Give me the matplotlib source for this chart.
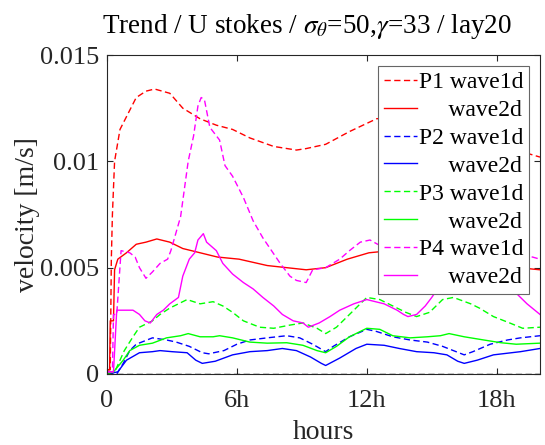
import matplotlib
matplotlib.use("Agg")
import matplotlib.pyplot as plt

# ---- data (hours, m/s) ----
t_p1_1d = [0, 0.15, 0.2, 0.25, 0.35, 0.6, 1.05, 1.35, 1.8, 2.2, 2.9, 3.5, 4.3, 5.05, 5.8, 6.6, 7.7, 8.75, 9.2, 10.1, 11.2, 12.45, 13.3, 14.5, 16.0, 17.5, 19.0, 20.0]
v_p1_1d = [0.0002, 0.0002, 0.0054, 0.0075, 0.0100, 0.0115, 0.0124, 0.0130, 0.0133, 0.0134, 0.0132, 0.0125, 0.0120, 0.0117, 0.0115, 0.0111, 0.0107, 0.01053, 0.0106, 0.0108, 0.0114, 0.0120, 0.0121, 0.0119, 0.0114, 0.0109, 0.0105, 0.0102]

t_p1_2d = [0, 0.12, 0.15, 0.3, 0.35, 0.5, 0.9, 1.35, 1.8, 2.3, 2.9, 3.5, 4.3, 5.1, 6.1, 7.4, 8.3, 9.2, 10.1, 11.1, 12.1, 12.6, 14, 16, 18, 20]
v_p1_2d = [0.0002, 0.0002, 0.0025, 0.0025, 0.0049, 0.0054, 0.0057, 0.0061, 0.0062, 0.00635, 0.0062, 0.0059, 0.0057, 0.0055, 0.0054, 0.0051, 0.0050, 0.0049, 0.0050, 0.0054, 0.0057, 0.00575, 0.0057, 0.0054, 0.0051, 0.0049]

t_p2_1d = [0, 0.45, 0.75, 1.05, 1.35, 2.1, 2.75, 3.2, 3.8, 4.4, 4.7, 5.4, 6.0, 6.6, 7.4, 8.3, 8.9, 9.5, 10.1, 10.45, 11.2, 12.0, 12.45, 13.2, 14.0, 14.8, 15.5, 16.5, 16.9, 17.7, 18.5, 19.1, 20]
v_p2_1d = [0, 0.0, 0.0005, 0.0011, 0.0014, 0.0017, 0.0016, 0.0015, 0.0013, 0.0010, 0.00095, 0.0011, 0.0014, 0.0016, 0.0017, 0.0018, 0.0017, 0.0014, 0.00105, 0.0013, 0.00175, 0.0021, 0.0020, 0.00175, 0.0016, 0.0015, 0.0013, 0.0009, 0.00105, 0.0014, 0.0016, 0.0017, 0.0018]

t_p2_2d = [0, 0.5, 0.9, 1.5, 2.1, 2.45, 3.0, 3.7, 4.1, 4.4, 5.0, 5.8, 6.6, 7.4, 8.1, 8.75, 9.4, 9.9, 10.1, 10.75, 11.5, 12.0, 12.8, 13.5, 14.3, 15.1, 15.7, 16.2, 16.5, 17.1, 17.85, 19.1, 20]
v_p2_2d = [0, 0.0001, 0.00065, 0.0010, 0.00105, 0.0011, 0.00105, 0.0010, 0.00065, 0.0005, 0.0006, 0.0009, 0.00105, 0.0011, 0.0012, 0.0011, 0.0008, 0.0005, 0.0004, 0.00075, 0.0012, 0.0014, 0.00135, 0.0012, 0.00105, 0.0010, 0.0009, 0.0006, 0.0005, 0.00065, 0.0009, 0.00105, 0.0012]

t_p3_1d = [0, 0.4, 0.8, 1.2, 1.5, 2.1, 2.45, 2.9, 3.7, 4.3, 4.9, 5.35, 5.8, 6.3, 7.05, 7.7, 8.45, 9.05, 9.7, 10.1, 10.6, 11.4, 12.0, 12.6, 13.2, 13.8, 14.3, 14.9, 15.5, 16.0, 16.8, 17.2, 17.85, 18.6, 19.2, 20]
v_p3_1d = [0, 0.0002, 0.0011, 0.00175, 0.0022, 0.0025, 0.0028, 0.0031, 0.0035, 0.0033, 0.0034, 0.0032, 0.0029, 0.0025, 0.0022, 0.00215, 0.0023, 0.0024, 0.00215, 0.0019, 0.0022, 0.0030, 0.0036, 0.0035, 0.0032, 0.0029, 0.0027, 0.0029, 0.0035, 0.0036, 0.0033, 0.0031, 0.0027, 0.0024, 0.00215, 0.0022]

t_p3_2d = [0, 0.3, 0.75, 1.05, 1.5, 2.1, 2.75, 3.4, 3.75, 4.3, 4.9, 5.2, 5.8, 6.6, 7.4, 8.3, 9.05, 9.7, 10.1, 10.6, 11.2, 12.0, 12.6, 13.2, 14.0, 14.8, 15.4, 15.8, 16.5, 17.4, 18.2, 18.9, 20]
v_p3_2d = [0, 0.0001, 0.00065, 0.0011, 0.00135, 0.00145, 0.0017, 0.0018, 0.0019, 0.00175, 0.00175, 0.0018, 0.0017, 0.0015, 0.00145, 0.00147, 0.00135, 0.0011, 0.0010, 0.0013, 0.00175, 0.00215, 0.0021, 0.0018, 0.0017, 0.00175, 0.0018, 0.0019, 0.00175, 0.0016, 0.00147, 0.0014, 0.00145]

t_p4_1d = [0, 0.25, 0.3, 0.45, 0.65, 1.05, 1.3, 1.5, 1.8, 2.1, 2.45, 2.8, 2.95, 3.4, 3.75, 4.0, 4.2, 4.35, 4.5, 4.75, 5.2, 5.45, 5.8, 6.3, 6.75, 7.2, 7.6, 8.0, 8.45, 8.75, 9.2, 9.5, 10.1, 10.75, 11.2, 11.7, 12.15, 12.5, 13.5, 15.0, 16.5, 18.0, 19.3, 20]
v_p4_1d = [0.0001, 0.0001, 0.0028, 0.0028, 0.0058, 0.0057, 0.0055, 0.0050, 0.0045, 0.0048, 0.0052, 0.0054, 0.0058, 0.0074, 0.0100, 0.0112, 0.0126, 0.0130, 0.0129, 0.0116, 0.0110, 0.0098, 0.0093, 0.0083, 0.0072, 0.0064, 0.0058, 0.0052, 0.0046, 0.0044, 0.0043, 0.0049, 0.0050, 0.0054, 0.0058, 0.0062, 0.0063, 0.0061, 0.0058, 0.0052, 0.0058, 0.0060, 0.0056, 0.0054]

t_p4_2d = [0, 0.3, 0.45, 1.2, 1.5, 1.75, 2.0, 2.3, 2.6, 2.9, 3.3, 3.5, 3.8, 4.05, 4.2, 4.45, 4.6, 5.05, 5.35, 5.8, 6.3, 6.75, 7.2, 7.7, 8.1, 8.6, 9.05, 9.3, 9.8, 10.3, 10.75, 11.4, 12.0, 12.8, 13.4, 13.7, 13.9, 14.3, 14.7, 15.0, 15.2, 16.0, 17.0, 18.0, 18.8, 19.4, 20]
v_p4_2d = [0.0001, 0.0001, 0.0030, 0.0030, 0.0028, 0.0025, 0.0024, 0.0028, 0.0030, 0.0033, 0.0036, 0.0046, 0.0054, 0.0057, 0.0063, 0.0066, 0.0062, 0.0058, 0.0052, 0.0047, 0.0043, 0.0040, 0.0036, 0.0032, 0.0028, 0.0025, 0.0024, 0.0022, 0.0024, 0.0027, 0.0030, 0.0033, 0.0035, 0.0033, 0.0030, 0.0028, 0.0027, 0.0028, 0.0032, 0.0036, 0.0039, 0.0043, 0.0045, 0.0043, 0.0039, 0.0033, 0.0028]

zero_level = [0.0]

labels = ["P1 wave1d", "     wave2d", "P2 wave1d", "     wave2d",
          "P3 wave1d", "     wave2d", "P4 wave1d", "     wave2d"]
x_ticks = [0, 6, 12, 18]
x_ticklabels = ["0", "6h", "12h", "18h"]
y_ticks = [0, 0.005, 0.01, 0.015]
y_ticklabels = ["0", "0.005", "0.01", "0.015"]

# ---- styling ----
plt.rcParams['font.family'] = ['Liberation Serif', 'DejaVu Serif']
plt.rcParams['mathtext.fontset'] = 'stix'
plt.rcParams['font.size'] = 18

dark = (0.15, 0.15, 0.15)
fig = plt.figure(figsize=(5.45, 4.45), dpi=100)
ax = fig.add_axes([107/545, 71/445, 433/545, 319/445])

series = [
    (t_p1_1d, v_p1_1d, 'red', '--'), (t_p1_2d, v_p1_2d, 'red', '-'),
    (t_p2_1d, v_p2_1d, 'blue', '--'), (t_p2_2d, v_p2_2d, 'blue', '-'),
    (t_p3_1d, v_p3_1d, (0, 1, 0), '--'), (t_p3_2d, v_p3_2d, (0, 1, 0), '-'),
    (t_p4_1d, v_p4_1d, (1, 0, 1), '--'), (t_p4_2d, v_p4_2d, (1, 0, 1), '-'),
]
for (t, v, c, ls), lab in zip(series, labels):
    kw = dict(dashes=(4.5, 2.5)) if ls == '--' else {}
    ax.plot(t, v, color=c, linestyle=ls, lw=1.0, label=lab, **kw)

ax.axhline(zero_level[0], color='k', linestyle='--', dashes=(4.5, 2.5), lw=1.0)

ax.set_xlim(0, 20)
ax.set_ylim(0, 0.015)
ax.set_xticks(x_ticks)
ax.set_xticklabels(x_ticklabels)
ax.set_yticks(y_ticks)
ax.set_yticklabels(y_ticklabels)
ax.tick_params(direction='in', top=True, right=True, length=4, width=0.8,
               colors=dark, labelcolor=dark, labelsize=19)
ax.tick_params(axis='y', pad=5.5)
ax.tick_params(axis='x', pad=11.5)
for s in ax.spines.values():
    s.set_color(dark)
    s.set_linewidth(0.8)

ax.set_xlabel("hours", color=dark, fontsize=20, labelpad=5.5)
ax.set_ylabel("velocity [m/s]", color=dark, fontsize=20, labelpad=0)
ax.set_title(r"Trend / U stokes / $\sigma_\theta$=50,$\gamma$=33 / lay20",
             fontsize=19.5, color='k', x=(307-107)/433, pad=16)

leg = ax.legend(loc='upper right', fontsize=17, frameon=True, fancybox=False,
                edgecolor=(0.4, 0.4, 0.4), framealpha=1, handlelength=1.4,
                handletextpad=0.1, labelspacing=0.27, borderpad=0.25,
                borderaxespad=0.45)
leg.get_frame().set_linewidth(0.8)

fig.savefig("out.png", dpi=100)
